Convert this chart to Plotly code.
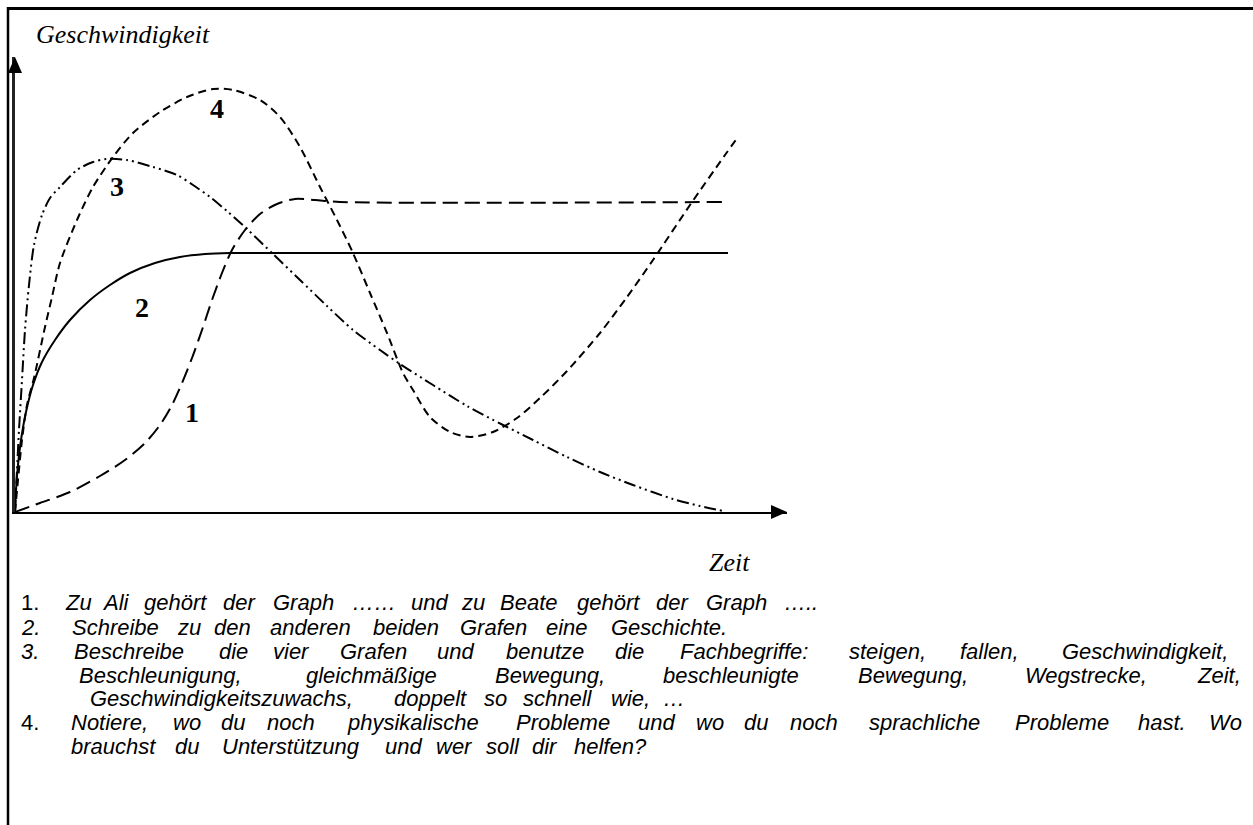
import plotly.graph_objects as go

W, H = 1253, 825

# ---------------- data (time / speed, arbitrary units) ----------------
t1 = [0, 25, 55, 85, 110, 130, 145, 157, 167, 177, 187, 197, 207, 217, 230, 245, 262, 280, 300, 325, 708]
v1 = [0, 9, 20, 36, 52, 69, 87, 107, 129, 154, 182, 212, 239, 262, 282, 298, 308, 313, 312, 310, 310]

t2 = [0, 1, 3, 6, 11, 18, 27, 40, 55, 75, 95, 115, 140, 165, 190, 215, 713]
v2 = [0, 22, 47, 72, 100, 127, 150, 172, 192, 212, 227, 239, 249, 255, 258, 259, 259]

t3 = [0, 2, 4, 7, 10, 14, 19, 27, 35, 45, 62, 78, 92, 112, 138, 162, 178, 195, 213, 232, 258,
      285, 312, 338, 365, 385, 418, 452, 488, 518, 552, 585, 618, 658, 685, 708]
v3 = [0, 42, 82, 132, 182, 227, 267, 297, 314, 325, 342, 350, 353, 352, 345, 337, 327, 315, 300, 283, 258,
      232, 206, 182, 162, 148, 127, 106, 87, 72, 55, 40, 27, 13, 6, 1]

t4 = [0, 3, 7, 12, 19, 30, 37, 45, 62, 78, 98, 118, 145, 172, 198, 218, 245, 265, 285, 305, 322, 338,
      355, 372, 388, 398, 415, 435, 455, 478, 502, 525, 552, 585, 612, 638, 675, 710, 723]
v4 = [0, 32, 72, 107, 134, 185, 215, 249, 292, 325, 355, 379, 400, 415, 423, 422, 412, 395, 365, 325, 292, 259,
      219, 179, 139, 122, 95, 80, 75, 80, 94, 114, 141, 179, 215, 252, 307, 357, 375]

curve_labels = ["1", "2", "3", "4"]
label_t = [177, 127, 102, 202]
label_v = [100, 205, 326, 404]

y_title = "Geschwindigkeit"
x_title = "Zeit"

task_numbers = ["1.", "2.", "3.", "", "", "4.", ""]
task_number_italic = [False, True, True, False, False, False, False]
task_lines = [
    "Zu Ali gehört der Graph …… und zu Beate gehört der Graph …..",
    "Schreibe zu den anderen beiden Grafen eine Geschichte.",
    "Beschreibe die vier Grafen und benutze die Fachbegriffe: steigen, fallen, Geschwindigkeit,",
    "Beschleunigung, gleichmäßige Bewegung, beschleunigte Bewegung, Wegstrecke, Zeit,",
    "Geschwindigkeitszuwachs, doppelt so schnell wie, …",
    "Notiere, wo du noch physikalische Probleme und wo du noch sprachliche Probleme hast. Wo",
    "brauchst du Unterstützung und wer soll dir helfen?",
]
task_justified = [False, False, True, True, False, True, False]

# ---------------- layout helpers ----------------
def px(x):
    return x / W

def py(y):
    return 1 - y / H

X0, X1 = 15, 787      # origin / x-arrow tip (pixels)
Y0, Y1 = 512, 57      # origin / y-arrow tip (pixels)

fig = go.Figure()

dash_styles = {
    "1": "15px,7px",
    "2": "solid",
    "3": "12px,4px,2px,4px,2px,4px",
    "4": "8px,5px",
}
for name, tt, vv in [("1", t1, v1), ("2", t2, v2), ("3", t3, v3), ("4", t4, v4)]:
    fig.add_trace(go.Scatter(
        x=tt, y=vv, mode="lines", name=name,
        line=dict(color="black", width=2, dash=dash_styles[name], shape="spline", smoothing=0.8),
        hoverinfo="skip", showlegend=False,
    ))

fig.update_layout(
    width=W, height=H,
    margin=dict(l=0, r=0, t=0, b=0),
    paper_bgcolor="white", plot_bgcolor="white",
    xaxis=dict(domain=[px(X0), px(X1)], range=[0, X1 - X0], showgrid=False, zeroline=False,
               showticklabels=False, ticks="", showline=True, linecolor="black", linewidth=2),
    yaxis=dict(domain=[py(Y0), py(Y1)], range=[0, Y0 - Y1], showgrid=False, zeroline=False,
               showticklabels=False, ticks="", showline=True, linecolor="#222", linewidth=3),
)

shapes = []
# arrow heads
shapes.append(dict(type="path", xref="paper", yref="paper", line=dict(width=0), fillcolor="black",
                   path=f"M {px(X1)} {py(Y0)} L {px(X1-16)} {py(Y0-7)} L {px(X1-16)} {py(Y0+7)} Z"))
shapes.append(dict(type="path", xref="paper", yref="paper", line=dict(width=0), fillcolor="black",
                   path=f"M {px(X0)} {py(Y1)} L {px(X0-7)} {py(Y1+16)} L {px(X0+7)} {py(Y1+16)} Z"))
# frame lines
shapes.append(dict(type="line", xref="paper", yref="paper", x0=px(7), x1=1, y0=py(8.5), y1=py(8.5),
                   line=dict(color="black", width=3)))
shapes.append(dict(type="line", xref="paper", yref="paper", x0=px(8), x1=px(8), y0=py(7), y1=0,
                   line=dict(color="black", width=2.5)))
fig.update_layout(shapes=shapes)

ann = []
serif = "Liberation Serif, Times New Roman, serif"
sans = "Liberation Sans, Arial, sans-serif"
for lab, lt, lv in zip(curve_labels, label_t, label_v):
    ann.append(dict(x=lt, y=lv, xref="x", yref="y", text=f"<b>{lab}</b>", showarrow=False,
                    font=dict(family=serif, size=28, color="black"), xanchor="center", yanchor="middle"))
ann.append(dict(x=px(34), y=py(34), xref="paper", yref="paper", text=f"<i>{y_title}</i>", showarrow=False,
                font=dict(family=serif, size=26, color="black"), xanchor="left", yanchor="middle"))
ann.append(dict(x=px(707), y=py(562), xref="paper", yref="paper", text=f"<i>{x_title}</i>", showarrow=False,
                font=dict(family=serif, size=26, color="black"), xanchor="left", yanchor="middle"))

# Arial / Liberation Sans advance widths (1/1000 em) used to place each word where the
# (slightly horizontally stretched) reference text puts it
AW = dict(zip("abcdefghijklmnopqrstuvwxyz",
              [556, 556, 500, 556, 556, 278, 556, 556, 222, 222, 500, 222, 833, 556, 556, 556, 556, 333, 500,
               278, 556, 500, 722, 500, 500, 500]))
AW.update(dict(zip("ABCDEFGHIJKLMNOPQRSTUVWXYZ",
                   [667, 667, 722, 722, 667, 611, 778, 722, 278, 500, 667, 556, 833, 722, 778, 667, 778, 722,
                    667, 611, 722, 667, 944, 667, 667, 611])))
AW.update({" ": 278, ",": 278, ".": 278, ":": 278, "?": 556, "…": 1000, "ä": 556, "ö": 556, "ü": 556,
           "ß": 611})

FS = 22          # rendered font size
S = 26.5         # horizontal pixels per em in the reference
LEFT, RIGHT = 63, 1245
line_y = [602, 627, 651, 675, 698, 722, 746]


def em(wd):
    return sum(AW.get(c, 556) for c in wd) / 1000.0


for num, nit, txt, just, yy in zip(task_numbers, task_number_italic, task_lines, task_justified, line_y):
    if num:
        ann.append(dict(x=px(20), y=py(yy), xref="paper", yref="paper",
                        text=(f"<i>{num}</i>" if nit else num), showarrow=False, borderpad=0,
                        font=dict(family=sans, size=FS, color="black"), xanchor="left", yanchor="middle"))
    words = txt.split(" ")
    ems = [em(w) for w in words]
    sp = AW[" "] / 1000.0
    natural = S * (sum(ems) + sp * (len(words) - 1))
    extra = (RIGHT - LEFT - natural) / (len(words) - 1) if just else 0.0
    cum = 0.0
    for i, (w, e) in enumerate(zip(words, ems)):
        cx = LEFT + S * (cum + e / 2) + i * extra
        ann.append(dict(x=px(cx), y=py(yy), xref="paper", yref="paper", text=f"<i>{w}</i>",
                        showarrow=False, borderpad=0, font=dict(family=sans, size=FS, color="black"),
                        xanchor="center", yanchor="middle"))
        cum += e + sp

fig.update_layout(annotations=ann)
fig.write_html("out.html", config={"displayModeBar": False},
               post_script="document.body.style.margin='0px';document.body.style.overflow='hidden';")
